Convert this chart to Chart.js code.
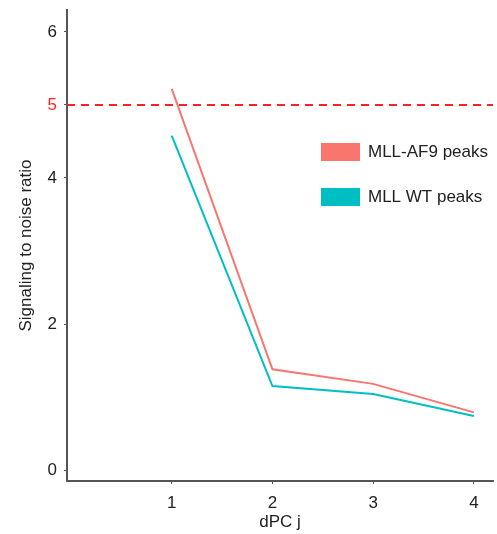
<!DOCTYPE html>
<html>
<head>
<meta charset="utf-8">
<script src="https://cdn.jsdelivr.net/npm/chart.js@4.4.1/dist/chart.umd.min.js"></script>
<style>
  html, body { margin: 0; padding: 0; background: #fff; }
  #wrap { width: 497px; height: 534px; }
</style>
</head>
<body>
<div id="wrap"><canvas id="snrChart"></canvas></div>
<script>
// data
const components = [1, 2, 3, 4];
const af9Peaks = [5.22, 1.38, 1.18, 0.79];
const wtPeaks = [4.58, 1.15, 1.04, 0.74];
const seriesNames = ['MLL-AF9 peaks', 'MLL WT peaks'];
const yTicks = [0, 2, 4, 5, 6];
const threshold = 5;

const RED = '#F8766D';
const CYAN = '#00BFC4';
const AXIS = '#555555';
const FONT = { family: '"Liberation Sans", Arial, sans-serif', size: 17 };

const xMin = -0.04, xMax = 4.19;

// little legend drawn inside the plot, like the original
const boxLegend = {
    id: 'boxLegend',
    afterDraw(chart) {
        const ctx = chart.ctx;
        const rows = [{ y: 143, color: RED }, { y: 188, color: CYAN }];
        ctx.save();
        ctx.font = '17px "Liberation Sans", Arial, sans-serif';
        ctx.textBaseline = 'middle';
        rows.forEach((r, i) => {
            ctx.fillStyle = r.color;
            ctx.fillRect(321, r.y, 39, 18);
            ctx.fillStyle = '#222';
            ctx.fillText(seriesNames[i], 368, r.y + 9);
        });
        ctx.restore();
    }
};

new Chart(document.getElementById('snrChart'), {
    type: 'line',
    data: {
        datasets: [
            {
                label: seriesNames[0],
                data: components.map((c, i) => ({ x: c, y: af9Peaks[i] })),
                borderColor: RED,
                borderWidth: 2,
                pointRadius: 0,
                tension: 0
            },
            {
                label: seriesNames[1],
                data: components.map((c, i) => ({ x: c, y: wtPeaks[i] })),
                borderColor: CYAN,
                borderWidth: 2,
                pointRadius: 0,
                tension: 0
            },
            {
                label: 'threshold',
                data: [{ x: xMin, y: threshold }, { x: xMax, y: threshold }],
                borderColor: '#FF2020',
                borderWidth: 2,
                borderDash: [8, 6],
                pointRadius: 0
            }
        ]
    },
    options: {
        responsive: true,
        maintainAspectRatio: false,
        animation: false,
        layout: { padding: { top: 10, right: 4, left: 0, bottom: 0 } },
        plugins: {
            legend: { display: false },
            tooltip: { enabled: false }
        },
        scales: {
            x: {
                type: 'linear',
                min: xMin,
                max: xMax,
                afterBuildTicks: scale => { scale.ticks = components.map(v => ({ value: v })); },
                afterFit: scale => {
                    scale.height = 53;
                    scale.paddingLeft = 0;
                    scale.paddingRight = 0;
                },
                grid: { drawOnChartArea: false, drawTicks: true, tickLength: 3, color: AXIS },
                border: { display: true, color: AXIS, width: 2 },
                ticks: { color: '#222', font: FONT, padding: 9, maxRotation: 0 },
                title: { display: true, text: 'dPC j', color: '#222', font: FONT, padding: { top: 1, bottom: 1 } }
            },
            y: {
                min: -0.15,
                max: 6.3,
                afterBuildTicks: scale => { scale.ticks = yTicks.map(v => ({ value: v })); },
                afterFit: scale => {
                    scale.width = 67;
                    scale.paddingTop = 0;
                    scale.paddingBottom = 0;
                },
                grid: { drawOnChartArea: false, drawTicks: true, tickLength: 3, color: AXIS },
                border: { display: true, color: AXIS, width: 2 },
                ticks: {
                    font: FONT,
                    padding: 7,
                    color: ctx => ctx.tick && ctx.tick.value === threshold ? '#FF2020' : '#222'
                },
                title: { display: true, text: 'Signaling to noise ratio', color: '#222', font: FONT, padding: { top: 16, bottom: 2 } }
            }
        }
    },
    plugins: [boxLegend]
});
</script>
</body>
</html>
